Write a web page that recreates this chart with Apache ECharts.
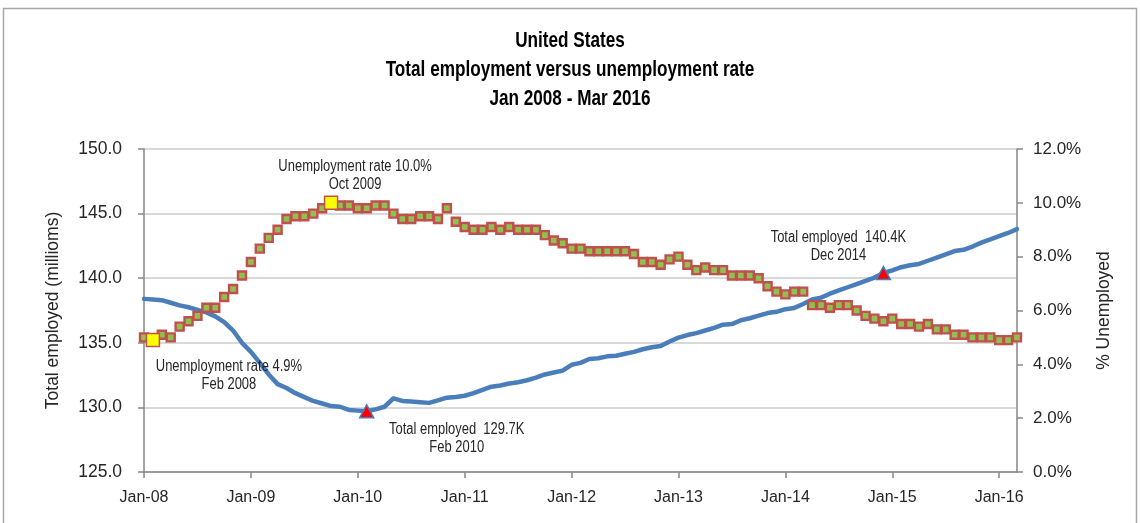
<!DOCTYPE html>
<html>
<head>
<meta charset="utf-8">
<script src="https://cdn.jsdelivr.net/npm/echarts@6/dist/echarts.min.js"></script>
<style>
  html, body { margin: 0; padding: 0; background: #fff; }
  #chart { width: 1140px; height: 523px; }
</style>
</head>
<body>
<div id="chart"></div>
<script>
// Monthly series, Jan 2008 .. Mar 2016
const monthNames = ['Jan','Feb','Mar','Apr','May','Jun','Jul','Aug','Sep','Oct','Nov','Dec'];
const firstYear = 2008;

// Total employed, millions
const employed = [
  138.4, 138.35, 138.3, 138.1, 137.9, 137.75, 137.55, 137.35, 137.05, 136.6, 135.95, 135.0,
  134.3, 133.45, 132.55, 131.8, 131.5, 131.1, 130.8, 130.5, 130.3, 130.1, 130.05, 129.8,
  129.75, 129.7, 129.85, 130.05, 130.7, 130.5, 130.45, 130.4, 130.35, 130.55, 130.75, 130.8,
  130.9, 131.1, 131.35, 131.6, 131.7, 131.85, 131.95, 132.1, 132.3, 132.55, 132.7, 132.85,
  133.3, 133.45, 133.75, 133.8, 133.95, 134.0, 134.15, 134.3, 134.5, 134.65, 134.75, 135.1,
  135.4, 135.6, 135.75, 135.95, 136.15, 136.4, 136.45, 136.75, 136.9, 137.1, 137.3, 137.4,
  137.6, 137.7, 138.0, 138.35, 138.5, 138.8, 139.05, 139.3, 139.55, 139.8, 140.05, 140.4,
  140.6, 140.85, 141.0, 141.1, 141.35, 141.6, 141.85, 142.1, 142.2, 142.45, 142.75, 143.0,
  143.25, 143.5, 143.8
];

// Unemployment rate, percent
const unemployment = [
  5.0, 4.9, 5.1, 5.0, 5.4, 5.6, 5.8, 6.1, 6.1, 6.5, 6.8, 7.3,
  7.8, 8.3, 8.7, 9.0, 9.4, 9.5, 9.5, 9.6, 9.8, 10.0, 9.9, 9.9,
  9.8, 9.8, 9.9, 9.9, 9.6, 9.4, 9.4, 9.5, 9.5, 9.4, 9.8, 9.3,
  9.1, 9.0, 9.0, 9.1, 9.0, 9.1, 9.0, 9.0, 9.0, 8.8, 8.6, 8.5,
  8.3, 8.3, 8.2, 8.2, 8.2, 8.2, 8.2, 8.1, 7.8, 7.8, 7.7, 7.9,
  8.0, 7.7, 7.5, 7.6, 7.5, 7.5, 7.3, 7.3, 7.3, 7.2, 6.9, 6.7,
  6.6, 6.7, 6.7, 6.2, 6.2, 6.1, 6.2, 6.2, 6.0, 5.8, 5.7, 5.6,
  5.7, 5.5, 5.5, 5.4, 5.5, 5.3, 5.3, 5.1, 5.1, 5.0, 5.0, 5.0,
  4.9, 4.9, 5.0
];

// Axis ranges
const employedAxis = { min: 125, max: 150, step: 5 };
const rateAxis = { min: 0, max: 12, step: 2 };

// Title lines
const titleLines = ['United States', 'Total employment versus unemployment rate', 'Jan 2008 - Mar 2016'];

// Annotated months (indices into the series)
const rateNotes = [1, 21];       // Feb 2008 low, Oct 2009 peak
const employedNotes = [25, 83];  // Feb 2010 low, Dec 2014

const categories = employed.map((_, i) =>
  monthNames[i % 12] + '-' + String(firstYear + Math.floor(i / 12)).slice(2));
const longMonth = i => monthNames[i % 12] + ' ' + (firstYear + Math.floor(i / 12));

const SANS = "'Liberation Sans', Arial, sans-serif";
const axisGray = '#868686';
const textDark = '#262626';
// narrow lettering: regular face squeezed horizontally
const NARROW_SCALE = 0.81;
const TITLE_SCALE = 0.78;

// pixel offsets of the note texts from their marks
const rateOffsets = { 1: [76, 35], 21: [24, -27] };
const employedOffsets = { 25: [90, 27], 83: [-45, -26] };

const chart = echarts.init(document.getElementById('chart'), null, { renderer: 'canvas' });

const frame = {
  type: 'rect', silent: true, z: -1,
  shape: { x: 3.5, y: 8.5, width: 1133, height: 540 },
  style: { fill: 'none', stroke: '#A6A6A6', lineWidth: 1.5 }
};
const titleTexts = titleLines.map((t, k) => ({
  type: 'text', silent: true,
  x: 570, y: 41 + k * 29, scaleX: TITLE_SCALE, scaleY: 1,
  style: {
    text: t, fill: '#000', font: 'bold 22px ' + SANS,
    textAlign: 'center', textVerticalAlign: 'middle'
  }
}));

chart.setOption({
  animation: false,
  backgroundColor: '#fff',
  graphic: [frame, ...titleTexts],
  grid: { left: 144, right: 123, top: 149, bottom: 51, containLabel: false },
  xAxis: {
    type: 'category',
    data: categories,
    boundaryGap: false,
    axisLine: { lineStyle: { color: axisGray, width: 1.5 } },
    axisTick: { interval: i => i % 12 === 0, length: 6, lineStyle: { color: axisGray, width: 1.5 } },
    axisLabel: {
      interval: i => i % 12 === 0, margin: 18,
      color: textDark, fontFamily: SANS, fontSize: 16
    },
    splitLine: { show: false }
  },
  yAxis: [{
    type: 'value',
    min: employedAxis.min, max: employedAxis.max, interval: employedAxis.step,
    name: 'Total employed (millioms)',
    nameLocation: 'middle', nameRotate: 90, nameGap: 82,
    nameTextStyle: { fontFamily: SANS, fontSize: 17.5, color: textDark },
    axisLine: { show: true, lineStyle: { color: axisGray, width: 1.5 } },
    axisTick: { show: true, length: 6, lineStyle: { color: axisGray, width: 1.5 } },
    axisLabel: {
      margin: 22, color: textDark, fontFamily: SANS, fontSize: 17.5,
      formatter: v => v.toFixed(1)
    },
    splitLine: { lineStyle: { color: '#D9D9D9', width: 2 } }
  }, {
    type: 'value', position: 'right',
    min: rateAxis.min, max: rateAxis.max, interval: rateAxis.step,
    name: '% Unemployed',
    nameLocation: 'middle', nameRotate: 90, nameGap: 78,
    nameTextStyle: { fontFamily: SANS, fontSize: 17.5, color: textDark },
    axisLine: { show: true, lineStyle: { color: axisGray, width: 1.5 } },
    axisTick: { show: true, length: 6, lineStyle: { color: axisGray, width: 1.5 } },
    axisLabel: {
      margin: 16, color: textDark, fontFamily: SANS, fontSize: 17,
      formatter: v => v.toFixed(1) + '%'
    },
    splitLine: { show: false }
  }],
  series: [{
    name: 'Total employed',
    type: 'line',
    yAxisIndex: 0,
    data: employed,
    showSymbol: false,
    symbol: 'none',
    lineStyle: { color: '#4A7EBB', width: 4.5, cap: 'round', join: 'round' },
    z: 2
  }, {
    name: 'Unemployment rate',
    type: 'scatter',
    yAxisIndex: 1,
    data: unemployment,
    symbol: 'rect',
    symbolSize: 8,
    itemStyle: { color: '#92C050', borderColor: '#C0504D', borderWidth: 2.4, opacity: 1 },
    z: 3
  }, {
    name: 'Rate notes',
    type: 'scatter',
    yAxisIndex: 1,
    data: rateNotes.map(i => [i, unemployment[i]]),
    symbol: 'rect',
    symbolSize: 13,
    itemStyle: { color: '#FFFF00', borderColor: '#C0504D', borderWidth: 1.5, opacity: 1 },
    z: 5
  }, {
    name: 'Employment notes',
    type: 'scatter',
    yAxisIndex: 0,
    data: employedNotes.map(i => [i, employed[i]]),
    symbol: 'triangle',
    symbolSize: [14, 13],
    itemStyle: { color: '#FF0000', borderColor: '#4A7EBB', borderWidth: 1.5, opacity: 1 },
    z: 5
  }]
});

// Note texts placed beside their marks, positioned through the axes' scales
function noteText(pixel, offset, text) {
  return {
    type: 'text', silent: true, z: 10,
    x: pixel[0] + offset[0], y: pixel[1] + offset[1],
    scaleX: NARROW_SCALE, scaleY: 1,
    style: {
      text, fill: textDark, font: '16px ' + SANS, lineHeight: 18,
      textAlign: 'center', textVerticalAlign: 'middle'
    }
  };
}
const notes = [];
rateNotes.forEach(i => {
  const p = chart.convertToPixel({ xAxisIndex: 0, yAxisIndex: 1 }, [i, unemployment[i]]);
  notes.push(noteText(p, rateOffsets[i],
    'Unemployment rate ' + unemployment[i].toFixed(1) + '%\n' + longMonth(i)));
});
employedNotes.forEach(i => {
  const p = chart.convertToPixel({ xAxisIndex: 0, yAxisIndex: 0 }, [i, employed[i]]);
  notes.push(noteText(p, employedOffsets[i],
    'Total employed  ' + employed[i].toFixed(1) + 'K\n' + longMonth(i)));
});
chart.setOption({ graphic: [frame, ...titleTexts, ...notes] });
</script>
</body>
</html>
